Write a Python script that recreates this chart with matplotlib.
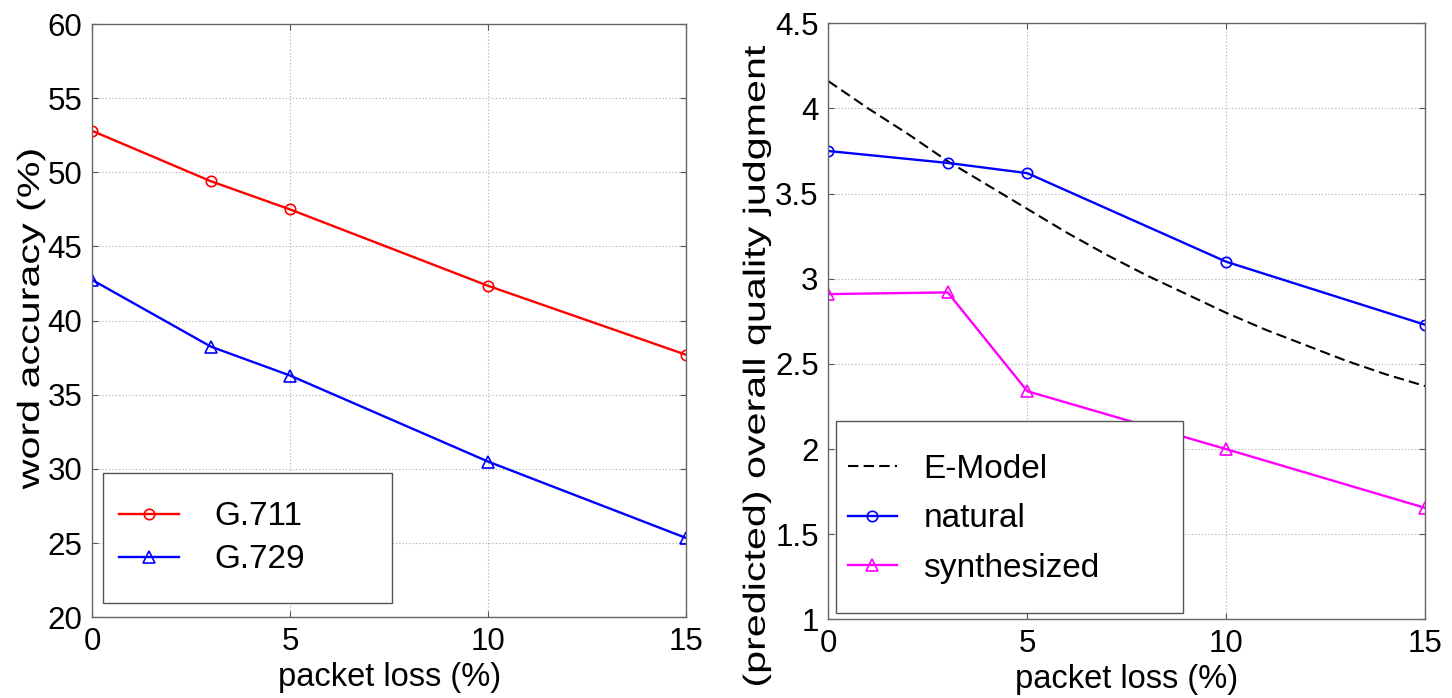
import numpy as np
import matplotlib.pyplot as plt
from matplotlib import patheffects
from matplotlib.patches import Rectangle
from matplotlib.ticker import FuncFormatter
from matplotlib.transforms import Affine2D

plt.rcParams['font.family'] = ['Liberation Sans', 'DejaVu Sans']

# packet loss settings (%)
loss = [0, 3, 5, 10, 15]

# word accuracy (%)
g711 = [52.8, 49.4, 47.5, 42.35, 37.7]
g729 = [42.75, 38.25, 36.3, 30.5, 25.35]

# overall quality judgment
natural = [3.75, 3.68, 3.62, 3.10, 2.73]
synthesized = [2.91, 2.92, 2.34, 2.00, 1.655]
emodel_loss = list(range(16))
emodel = [4.16, 4.00, 3.85, 3.69, 3.55, 3.41, 3.27, 3.14, 3.02, 2.91,
          2.80, 2.70, 2.61, 2.52, 2.44, 2.37]

acc_ticks = [20, 25, 30, 35, 40, 45, 50, 55, 60]
mos_ticks = [1, 1.5, 2, 2.5, 3, 3.5, 4, 4.5]
loss_ticks = [0, 5, 10, 15]


class Stretch(patheffects.AbstractPathEffect):
    """Stretch a text path along its baseline, about its middle."""

    def __init__(self, factor):
        super().__init__()
        self.factor = factor

    def draw_path(self, renderer, gc, tpath, affine, rgbFace=None):
        ext = tpath.get_extents()
        cx = 0.5 * (ext.x0 + ext.x1)
        pre = Affine2D().translate(-cx, 0).scale(self.factor, 1).translate(cx, 0)
        renderer.draw_path(gc, tpath, pre + affine, rgbFace)


def style(ax, yticks):
    ax.set_xlim(0, 15)
    ax.set_xticks(loss_ticks)
    ax.set_ylim(yticks[0], yticks[-1])
    ax.set_yticks(yticks)
    fmt = FuncFormatter(lambda v, p: f'{v:g}')
    ax.xaxis.set_major_formatter(fmt)
    ax.yaxis.set_major_formatter(fmt)
    ax.grid(True, color='#aaaaaa', linestyle=(0, (1, 2)), linewidth=0.8)
    ax.tick_params(direction='in', length=4, width=0.8, color='#555555',
                   top=True, right=True, labelsize=22.5, pad=7)
    for s in ax.spines.values():
        s.set_color('#666666')
        s.set_linewidth(1.0)


def boxed_legend(ax, box, anchor, hlen, tpad, spacing):
    x0, y0, x1, y1 = box
    ax.add_patch(Rectangle((x0, y0), x1 - x0, y1 - y0, transform=ax.transAxes,
                           facecolor='white', edgecolor='#555555', lw=1.0,
                           zorder=4))
    leg = ax.legend(loc='center left', bbox_to_anchor=anchor, frameon=False,
                    fontsize=24, borderpad=0, borderaxespad=0,
                    handlelength=hlen, handletextpad=tpad, labelspacing=spacing)
    leg.set_zorder(5)


fig = plt.figure(figsize=(14.52, 6.98), dpi=100)
ax1 = fig.add_axes([0.0634, 0.1156, 0.4091, 0.8500])
ax2 = fig.add_axes([0.5705, 0.1125, 0.4110, 0.8542])

# left: recognition accuracy
ax1.plot(loss, g711, color='red', lw=1.7, marker='o', ms=7.5, mfc='none',
         mew=1.2, label='G.711')
ax1.plot(loss, g729, color='blue', lw=1.7, marker='^', ms=8.5, mfc='none',
         mew=1.2, label='G.729')
style(ax1, acc_ticks)
ax1.set_ylabel('word accuracy (%)', fontsize=22, va='center',
               path_effects=[Stretch(1.35)])
ax1.yaxis.set_label_coords(-0.103, 0.503)
ax1.set_xlabel('packet loss (%)', fontsize=23.5, va='top')
ax1.xaxis.set_label_coords(0.5, -0.075)
boxed_legend(ax1, (0.019, 0.0236, 0.5045, 0.2427), (0.0455, 0.133),
             1.8, 1.05, 0.36)

# right: quality judgments
ax2.plot(emodel_loss, emodel, color='black', lw=1.5, linestyle=(0, (5, 2.5)),
         label='E-Model')
ax2.plot(loss, natural, color='blue', lw=1.7, marker='o', ms=7.5, mfc='none',
         mew=1.2, label='natural')
ax2.plot(loss, synthesized, color='magenta', lw=1.7, marker='^', ms=8.5,
         mfc='none', mew=1.2, label='synthesized')
style(ax2, mos_ticks)
ax2.set_ylabel('(predicted) overall quality judgment', fontsize=22,
               va='center', path_effects=[Stretch(1.35)])
ax2.yaxis.set_label_coords(-0.12, 0.423)
ax2.set_xlabel('packet loss (%)', fontsize=23.5, va='top')
ax2.xaxis.set_label_coords(0.5, -0.075)
boxed_legend(ax2, (0.0129, 0.0104, 0.595, 0.333), (0.033, 0.169),
             1.46, 0.8, 0.56)

fig.savefig('out.png', dpi=100)
